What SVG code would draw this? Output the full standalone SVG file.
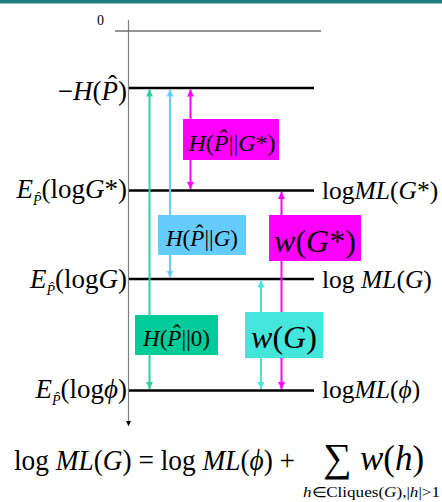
<svg xmlns="http://www.w3.org/2000/svg" width="442" height="502" viewBox="0 0 442 502">
<style>
text{font-family:"Liberation Serif","Times New Roman",serif;fill:#000}
.i{font-style:italic}
.lvl{stroke:#000;stroke-width:2.5}
.ax{stroke:#808080;stroke-width:1.2;fill:none}
.g{stroke:#2fd0a0;stroke-width:2;fill:none}
.b{stroke:#66ccff;stroke-width:2;fill:none}
.m{stroke:#ff00ff;stroke-width:2;fill:none}
.c{stroke:#44e6dc;stroke-width:2;fill:none}
</style>
<defs>
<marker id="hg" markerUnits="userSpaceOnUse" markerWidth="8" markerHeight="8" refX="7" refY="3.5" orient="auto-start-reverse"><path d="M0,0 L7,3.5 L0,7 z" fill="#2fd0a0"/></marker>
<marker id="hb" markerUnits="userSpaceOnUse" markerWidth="8" markerHeight="8" refX="7" refY="3.5" orient="auto-start-reverse"><path d="M0,0 L7,3.5 L0,7 z" fill="#66ccff"/></marker>
<marker id="hm" markerUnits="userSpaceOnUse" markerWidth="8" markerHeight="8" refX="7" refY="3.5" orient="auto-start-reverse"><path d="M0,0 L7,3.5 L0,7 z" fill="#ff00ff"/></marker>
<marker id="hc" markerUnits="userSpaceOnUse" markerWidth="8" markerHeight="8" refX="7" refY="3.5" orient="auto-start-reverse"><path d="M0,0 L7,3.5 L0,7 z" fill="#44e6dc"/></marker>
<marker id="hk" markerUnits="userSpaceOnUse" markerWidth="6" markerHeight="6" refX="5" refY="2.5" orient="auto"><path d="M0,0 L5,2.5 L0,5 z" fill="#000"/></marker>
</defs>
<rect x="0" y="0" width="442" height="502" fill="#fff"/>
<rect x="0" y="0" width="442" height="3" fill="#1b7f78"/>
<rect x="0" y="3" width="442" height="1" fill="#8fc4c0"/>

<g id="axis">
<line class="ax" x1="128.5" y1="20" x2="128.5" y2="426" marker-end="url(#hk)"/>
<line x1="115" y1="31" x2="321" y2="31" stroke="#707070" stroke-width="1.5"/>
<text x="97" y="25" font-size="14">0</text>
</g>

<g id="level-H">
<line class="lvl" x1="129" y1="88" x2="314" y2="88"/>
<text x="127" y="100" font-size="27" text-anchor="end">−<tspan class="i">H</tspan>(<tspan class="i">P</tspan><tspan dx="-10" dy="-6">ˆ</tspan><tspan dx="1" dy="6">)</tspan></text>
</g>
<g id="level-Gstar">
<line class="lvl" x1="129" y1="190.5" x2="314" y2="190.5"/>
<text x="127" y="198" font-size="27" text-anchor="end"><tspan class="i">E</tspan><tspan class="i" font-size="14" dy="7">P</tspan><tspan font-size="14" dx="-5.2" dy="-3">ˆ</tspan><tspan dx="0.5" dy="-4">(log</tspan><tspan class="i">G</tspan>*)</text>
<text x="322" y="199" font-size="25.5">log<tspan class="i">ML</tspan>(<tspan class="i">G</tspan>*)</text>
</g>
<g id="level-G">
<line class="lvl" x1="129" y1="279" x2="314" y2="279"/>
<text x="127" y="288" font-size="27" text-anchor="end"><tspan class="i">E</tspan><tspan class="i" font-size="14" dy="7">P</tspan><tspan font-size="14" dx="-5.2" dy="-3">ˆ</tspan><tspan dx="0.5" dy="-4">(log</tspan><tspan class="i">G</tspan>)</text>
<text x="322" y="288" font-size="25.5">log <tspan class="i">ML</tspan>(<tspan class="i">G</tspan>)</text>
</g>
<g id="level-phi">
<line class="lvl" x1="129" y1="390.5" x2="314" y2="390.5"/>
<text x="127" y="398" font-size="27" text-anchor="end"><tspan class="i">E</tspan><tspan class="i" font-size="14" dy="7">P</tspan><tspan font-size="14" dx="-5.2" dy="-3">ˆ</tspan><tspan dx="0.5" dy="-4">(log</tspan><tspan class="i">ϕ</tspan>)</text>
<text x="322" y="398" font-size="25.5">log<tspan class="i">ML</tspan>(<tspan class="i">ϕ</tspan>)</text>
</g>

<g id="connectors">
<line class="g" x1="149.5" y1="89.5" x2="149.5" y2="389" marker-start="url(#hg)" marker-end="url(#hg)"/>
<line class="b" x1="170" y1="89.5" x2="170" y2="277.5" marker-start="url(#hb)" marker-end="url(#hb)"/>
<line class="m" x1="190.5" y1="119" x2="190.5" y2="89.5" marker-end="url(#hm)"/>
<line class="m" x1="190.5" y1="160" x2="190.5" y2="189" marker-end="url(#hm)"/>
<line class="m" x1="281.5" y1="215" x2="281.5" y2="192" marker-end="url(#hm)"/>
<line class="m" x1="281.5" y1="261" x2="281.5" y2="389" marker-end="url(#hm)"/>
<line class="c" x1="261" y1="312" x2="261" y2="280.5" marker-end="url(#hc)"/>
<line class="c" x1="261" y1="358" x2="261" y2="389" marker-end="url(#hc)"/>
</g>

<g id="box-H-Gstar">
<rect x="183" y="119" width="96" height="41" fill="#ff00ff"/>
<text x="232" y="151" font-size="24" text-anchor="middle"><tspan class="i">H</tspan>(<tspan class="i">P</tspan><tspan dx="-8.8" dy="-5">ˆ</tspan><tspan dx="1" dy="5">||</tspan><tspan class="i">G</tspan>*)</text>
</g>
<g id="box-H-G">
<rect x="158" y="215" width="88" height="40" fill="#66ccff"/>
<text x="202" y="246" font-size="23" text-anchor="middle"><tspan class="i">H</tspan>(<tspan class="i">P</tspan><tspan dx="-8.5" dy="-4.8">ˆ</tspan><tspan dx="1" dy="4.8">||</tspan><tspan class="i">G</tspan>)</text>
</g>
<g id="box-w-Gstar">
<rect x="269" y="215" width="92" height="46" fill="#ff00ff"/>
<text x="315" y="252" font-size="32" text-anchor="middle"><tspan class="i">w</tspan>(<tspan class="i">G</tspan>*)</text>
</g>
<g id="box-H-0">
<rect x="135" y="315" width="83" height="40" fill="#00cc99"/>
<text x="176.5" y="346" font-size="23" text-anchor="middle"><tspan class="i">H</tspan>(<tspan class="i">P</tspan><tspan dx="-8.5" dy="-4.8">ˆ</tspan><tspan dx="1" dy="4.8">||0)</tspan></text>
</g>
<g id="box-w-G">
<rect x="245" y="312" width="78" height="46" fill="#44e6dc"/>
<text x="284" y="348" font-size="32" text-anchor="middle"><tspan class="i">w</tspan>(<tspan class="i">G</tspan>)</text>
</g>

<g id="formula">
<text x="14" y="470" font-size="29" textLength="281" lengthAdjust="spacingAndGlyphs">log <tspan class="i">ML</tspan>(<tspan class="i">G</tspan>) = log <tspan class="i">ML</tspan>(<tspan class="i">ϕ</tspan>) +</text>
<text x="323" y="471" font-size="40">∑</text>
<text x="360" y="470" font-size="35"><tspan class="i">w</tspan>(<tspan class="i">h</tspan>)</text>
<text x="303" y="497" font-size="14" textLength="137" lengthAdjust="spacingAndGlyphs"><tspan class="i">h</tspan>∈Cliques(<tspan class="i">G</tspan>),|<tspan class="i">h</tspan>|&gt;1</text>
</g>
</svg>
